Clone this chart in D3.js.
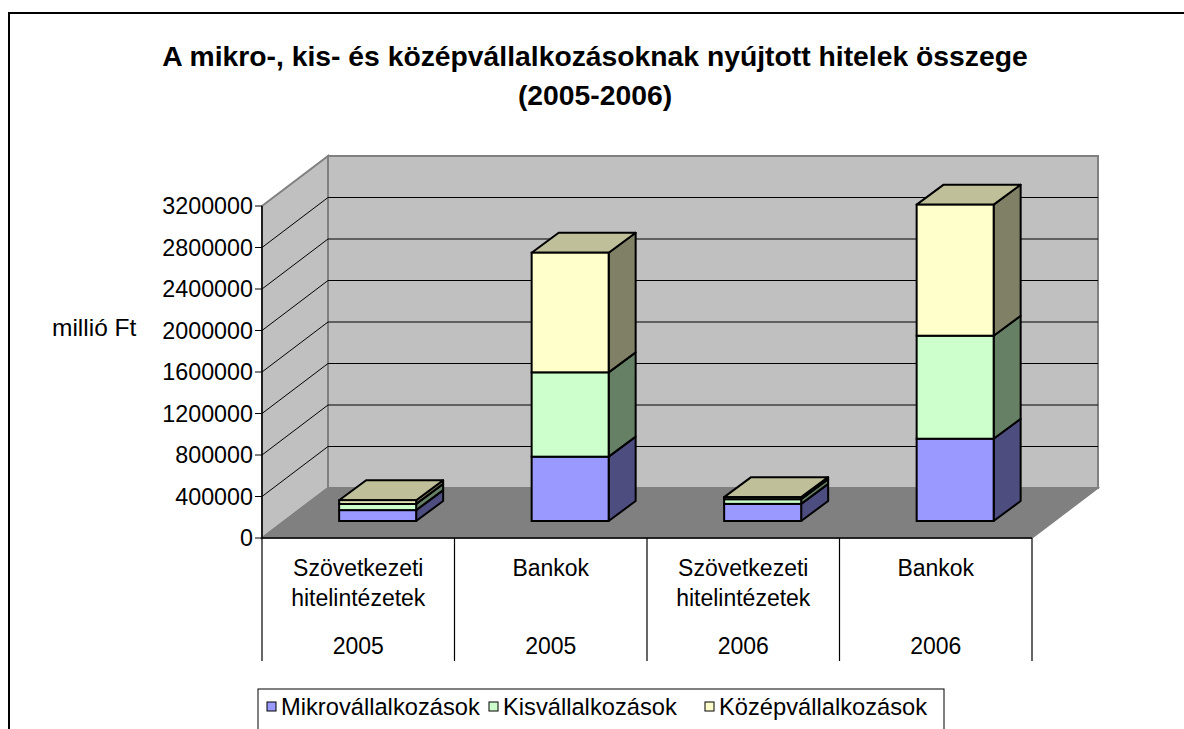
<!DOCTYPE html>
<meta charset="utf-8">
<script src="https://d3js.org/d3.v7.min.js"></script>
<style>
  body { margin: 0; background: #fff; }
  text { font-family: Arial, "Liberation Sans", sans-serif; fill: #000; }
</style>
<div id="chart"></div>
<script>
  // data (millió Ft)
  var categories = ["Szövetkezeti hitelintézetek", "Bankok", "Szövetkezeti hitelintézetek", "Bankok"];
  var catLines = [["Szövetkezeti", "hitelintézetek"], ["Bankok"], ["Szövetkezeti", "hitelintézetek"], ["Bankok"]];
  var years = ["2005", "2005", "2006", "2006"];
  var seriesNames = ["Mikrovállalkozások", "Kisvállalkozások", "Középvállalkozások"];
  var mikro = [105000, 620000, 165000, 793000];
  var kis = [60000, 813000, 45000, 993000];
  var kozep = [35000, 1153000, 20000, 1263000];
  var yTicks = [0, 400000, 800000, 1200000, 1600000, 2000000, 2400000, 2800000, 3200000];

  var colors = ["#9999FF", "#CCFFCC", "#FFFFCC"];

  var W = 1184, H = 729;
  var svg = d3.select("#chart").append("svg")
    .attr("width", W).attr("height", H);

  // outer chart border (right/bottom run off the picture)
  svg.append("rect")
    .attr("x", 9).attr("y", 13).attr("width", 1200).attr("height", 800)
    .attr("fill", "#fff").attr("stroke", "#000").attr("stroke-width", 2);

  // title
  svg.append("text").attr("x", 595).attr("y", 66)
    .attr("text-anchor", "middle").style("font-size", "28.3px").style("font-weight", "bold")
    .text("A mikro-, kis- és középvállalkozásoknak nyújtott hitelek összege");
  svg.append("text").attr("x", 595).attr("y", 105)
    .attr("text-anchor", "middle").style("font-size", "28.3px").style("font-weight", "bold")
    .text("(2005-2006)");

  // 3d frame
  var x0 = 262, x1 = 1032;
  var depthX = 66, depthY = -50;
  var y = d3.scaleLinear().domain([0, 3200000]).range([538, 206]);
  var x = d3.scaleBand().domain(d3.range(categories.length)).range([x0, x1]).padding(0);

  var yTop = y(3200000), yBot = y(0);

  // back wall
  svg.append("rect")
    .attr("x", x0 + depthX).attr("y", yTop + depthY)
    .attr("width", x1 - x0).attr("height", yBot - yTop)
    .attr("fill", "#C0C0C0").attr("stroke", "#808080").attr("stroke-width", 2);
  // side wall
  svg.append("path")
    .attr("d", d3.line()([[x0, yTop], [x0 + depthX, yTop + depthY], [x0 + depthX, yBot + depthY], [x0, yBot]]) + "Z")
    .attr("fill", "#C0C0C0").attr("stroke", "#808080").attr("stroke-width", 2);
  // floor
  svg.append("path")
    .attr("d", d3.line()([[x0, yBot], [x0 + depthX, yBot + depthY], [x1 + depthX, yBot + depthY], [x1, yBot]]) + "Z")
    .attr("fill", "#808080").attr("stroke", "#808080").attr("stroke-width", 1.5);

  // gridlines
  var grid = yTicks.filter(function(d) { return d > 0 && d < 3200000; });
  svg.selectAll(".gback").data(grid).enter().append("line")
    .attr("x1", x0 + depthX).attr("x2", x1 + depthX)
    .attr("y1", function(d) { return y(d) + depthY; })
    .attr("y2", function(d) { return y(d) + depthY; })
    .attr("stroke", "#000").attr("stroke-width", 1.2);
  svg.selectAll(".gside").data(grid).enter().append("line")
    .attr("x1", x0).attr("x2", x0 + depthX)
    .attr("y1", function(d) { return y(d); })
    .attr("y2", function(d) { return y(d) + depthY; })
    .attr("stroke", "#000").attr("stroke-width", 1);

  // y axis
  svg.append("line").attr("x1", x0).attr("x2", x0).attr("y1", yTop).attr("y2", yBot)
    .attr("stroke", "#000").attr("stroke-width", 1.5);
  svg.selectAll(".ytick").data(yTicks).enter().append("line")
    .attr("x1", x0 - 7).attr("x2", x0)
    .attr("y1", function(d) { return y(d); }).attr("y2", function(d) { return y(d); })
    .attr("stroke", "#000").attr("stroke-width", 1);
  svg.selectAll(".ylab").data(yTicks).enter().append("text")
    .attr("x", x0 - 9).attr("y", function(d) { return y(d); })
    .attr("dy", "0.35em").attr("text-anchor", "end")
    .style("font-size", "23.3px")
    .text(function(d) { return d; });

  svg.append("text").attr("x", 52).attr("y", 336)
    .style("font-size", "24.5px").text("millió Ft");

  // category axis
  svg.append("line").attr("x1", x0).attr("x2", x1).attr("y1", yBot).attr("y2", yBot)
    .attr("stroke", "#000").attr("stroke-width", 1.5);
  var dividers = d3.range(categories.length + 1).map(function(i) {
    return i < categories.length ? x(i) : x1;
  });
  svg.selectAll(".div").data(dividers).enter().append("line")
    .attr("x1", function(d) { return d; }).attr("x2", function(d) { return d; })
    .attr("y1", yBot).attr("y2", 661)
    .attr("stroke", "#000").attr("stroke-width", 1.2);

  catLines.forEach(function(lines, i) {
    var cx = x(i) + x.bandwidth() / 2;
    lines.forEach(function(t, j) {
      svg.append("text").attr("x", cx).attr("y", 576 + j * 30)
        .attr("text-anchor", "middle").style("font-size", "23px").text(t);
    });
    svg.append("text").attr("x", cx).attr("y", 654)
      .attr("text-anchor", "middle").style("font-size", "23px").text(years[i]);
  });

  // bars
  var stack = d3.stack().keys([0, 1, 2]).value(function(d, k) { return d[k]; });
  var rows = categories.map(function(c, i) { return [mikro[i], kis[i], kozep[i]]; });
  var layers = stack(rows);

  var barW = 77, barShift = 19.4, lift = 17, bdx = 27, bdy = -20;

  function shade(c, k) {
    var r = d3.rgb(c);
    return d3.rgb(r.r * k, r.g * k, r.b * k);
  }

  layers.forEach(function(layer, s) {
    layer.forEach(function(seg, i) {
      var left = x(i) + x.bandwidth() / 2 + barShift - barW / 2;
      var right = left + barW;
      var yb = y(seg[0]) - lift, yt = y(seg[1]) - lift;
      var g = svg.append("g");
      // side face
      g.append("path")
        .attr("d", d3.line()([[right, yb], [right + bdx, yb + bdy], [right + bdx, yt + bdy], [right, yt]]) + "Z")
        .attr("fill", shade(colors[s], 0.5)).attr("stroke", "#000").attr("stroke-width", 2)
        .attr("stroke-linejoin", "round");
      // top face (only visible on the top segment)
      if (s === layers.length - 1) {
        g.append("path")
          .attr("d", d3.line()([[left, yt], [left + bdx, yt + bdy], [right + bdx, yt + bdy], [right, yt]]) + "Z")
          .attr("fill", shade(colors[s], 0.75)).attr("stroke", "#000").attr("stroke-width", 2)
          .attr("stroke-linejoin", "round");
      }
      // front face
      g.append("rect")
        .attr("x", left).attr("y", yt).attr("width", barW).attr("height", yb - yt)
        .attr("fill", colors[s]).attr("stroke", "#000").attr("stroke-width", 2);
    });
  });

  // legend
  svg.append("rect").attr("x", 258).attr("y", 689).attr("width", 686).attr("height", 80)
    .attr("fill", "#fff").attr("stroke", "#000").attr("stroke-width", 1);
  var legX = [267, 489, 705];
  seriesNames.forEach(function(n, i) {
    svg.append("rect").attr("x", legX[i]).attr("y", 702).attr("width", 9).attr("height", 9)
      .attr("fill", colors[i]).attr("stroke", "#000").attr("stroke-width", 1);
    svg.append("text").attr("x", legX[i] + 14).attr("y", 715)
      .style("font-size", "23.7px").text(n);
  });
</script>
